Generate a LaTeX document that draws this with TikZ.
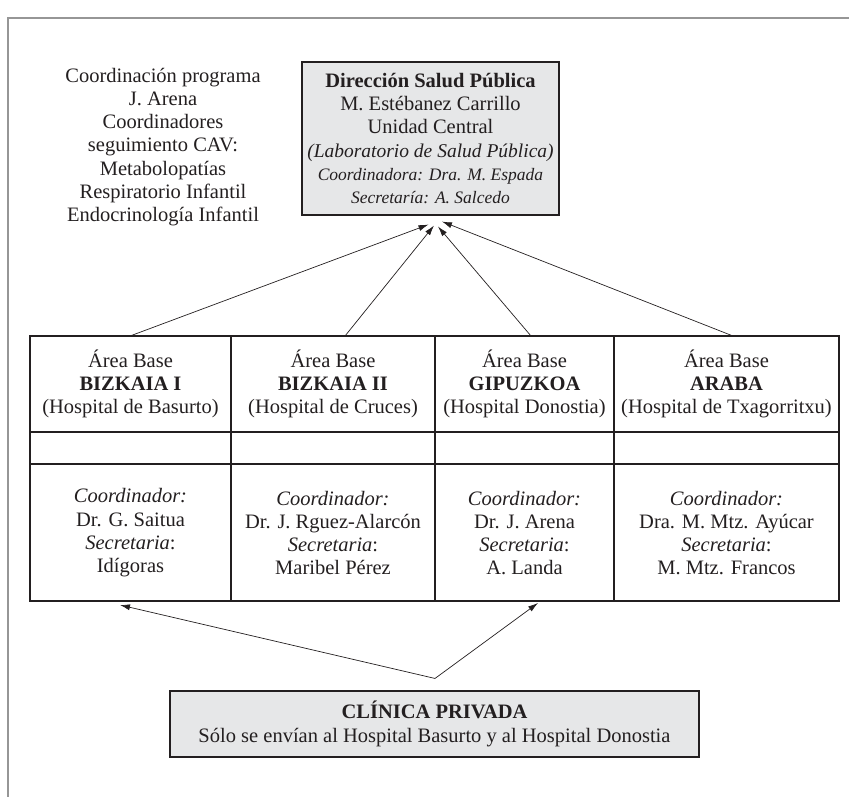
\documentclass[tikz,border=0pt]{standalone}
\usepackage{fontspec}
\setmainfont{Liberation Serif}
\usetikzlibrary{positioning,calc,arrows.meta}
\definecolor{boxgray}{RGB}{230,231,232}
\definecolor{framegray}{RGB}{150,150,150}
\definecolor{ink}{RGB}{35,31,32}
\newcommand{\bodyfont}{\fontsize{20.5}{23.3}\selectfont}
\newcommand{\smallfont}{\fontsize{17.5}{18}\selectfont}
\tikzset{
  graybox/.style={draw=ink, line width=1.1pt, fill=boxgray, align=center, inner sep=0pt},
  cell/.style={align=center, inner sep=0pt, text=ink},
  link/.style={draw=ink, line width=0.7pt, -{Latex[length=10pt,width=6pt]}},
}

\begin{document}
\begin{tikzpicture}[x=1pt,y=-1pt,font=\bodyfont,text=ink]
\useasboundingbox (0,0) rectangle (849,797);
% marco
\draw[framegray, line width=1.5pt] (849,18) -- (8,18) -- (8,797);

% direccion y coordinacion
\node[graybox, minimum width=257pt, minimum height=153pt] (dsp) at (430.5,138.5) {};
\node[cell] (dsptxt) at (dsp) {\textbf{Dirección Salud Pública}\\
  M. Estébanez Carrillo\\
  Unidad Central\\
  {\fontsize{19.5}{23.3}\selectfont\textit{(Laboratorio de Salud Pública)}}\\
  {\smallfont\textit{Coordinadora: Dra. M. Espada}}\\
  {\smallfont\textit{Secretaría: A. Salcedo}}};
\node[cell] (coord) at (163,147) {Coordinación programa\\ J. Arena\\ Coordinadores\\
  seguimiento CAV:\\ Metabolopatías\\ Respiratorio Infantil\\ Endocrinología Infantil};

% tabla de areas
\node[draw=ink, line width=1.1pt, minimum width=809pt, minimum height=265pt, inner sep=0pt] (tab) at (434.5,468.5) {};
\draw[ink, line width=1.1pt] (231,336) -- (231,601);
\draw[ink, line width=1.1pt] (435,336) -- (435,601);
\draw[ink, line width=1.1pt] (614,336) -- (614,601);
\draw[ink, line width=1.1pt] (30,432) -- (839,432);
\draw[ink, line width=1.1pt] (30,464) -- (839,464);

\node[cell] (b1) at (130.5,384) {Área Base\\ \textbf{BIZKAIA I}\\ (Hospital de Basurto)};
\node[cell] (b2) at (333,384) {Área Base\\ \textbf{BIZKAIA II}\\ (Hospital de Cruces)};
\node[cell] (b3) at (524.5,384) {Área Base\\ \textbf{GIPUZKOA}\\ (Hospital Donostia)};
\node[cell] (b4) at (726.5,384) {Área Base\\ \textbf{ARABA}\\ (Hospital de Txagorritxu)};

\node[cell] (c1) at (130.5,533) {\textit{Coordinador:}\\ Dr. G. Saitua\\ \textit{Secretaria}:\\ Idígoras};
\node[cell] (c2) at (333,533) {\textit{Coordinador:}\\ Dr. J. Rguez-Alarcón\\ \textit{Secretaria}:\\ Maribel Pérez};
\node[cell] (c3) at (524.5,533) {\textit{Coordinador:}\\ Dr. J. Arena\\ \textit{Secretaria}:\\ A. Landa};
\node[cell] (c4) at (726.5,533) {\textit{Coordinador:}\\ Dra. M. Mtz. Ayúcar\\ \textit{Secretaria}:\\ M. Mtz. Francos};

% clinica
\node[graybox, minimum width=529pt, minimum height=66pt] (cp) at (434.5,724) {};
\node[cell] (cptxt) at (cp) {\textbf{CLÍNICA PRIVADA}\\
  Sólo se envían al Hospital Basurto y al Hospital Donostia};

% flechas hacia la direccion
\coordinate (s1) at (130,336);
\coordinate (s2) at (345,336);
\coordinate (s3) at (531,336);
\coordinate (s4) at (733,336);
\coordinate (t1) at ($(dsp.south)+(-2,9)$);
\coordinate (t2) at ($(dsp.south)+(3.5,10)$);
\coordinate (t3) at ($(dsp.south)+(7.5,11)$);
\coordinate (t4) at ($(dsp.south)+(11.5,6)$);
\draw[link] (s1) -- (t1);
\draw[link] (s2) -- (t2);
\draw[link] (s3) -- (t3);
\draw[link] (s4) -- (t4);

% flechas desde la clinica
\coordinate (v) at ($(cp.north)+(0.5,-12)$);
\coordinate (u1) at (120,605);
\coordinate (u3) at (538,603);
\draw[link] (v) -- (u1);
\draw[link] (v) -- (u3);
\end{tikzpicture}
\end{document}
